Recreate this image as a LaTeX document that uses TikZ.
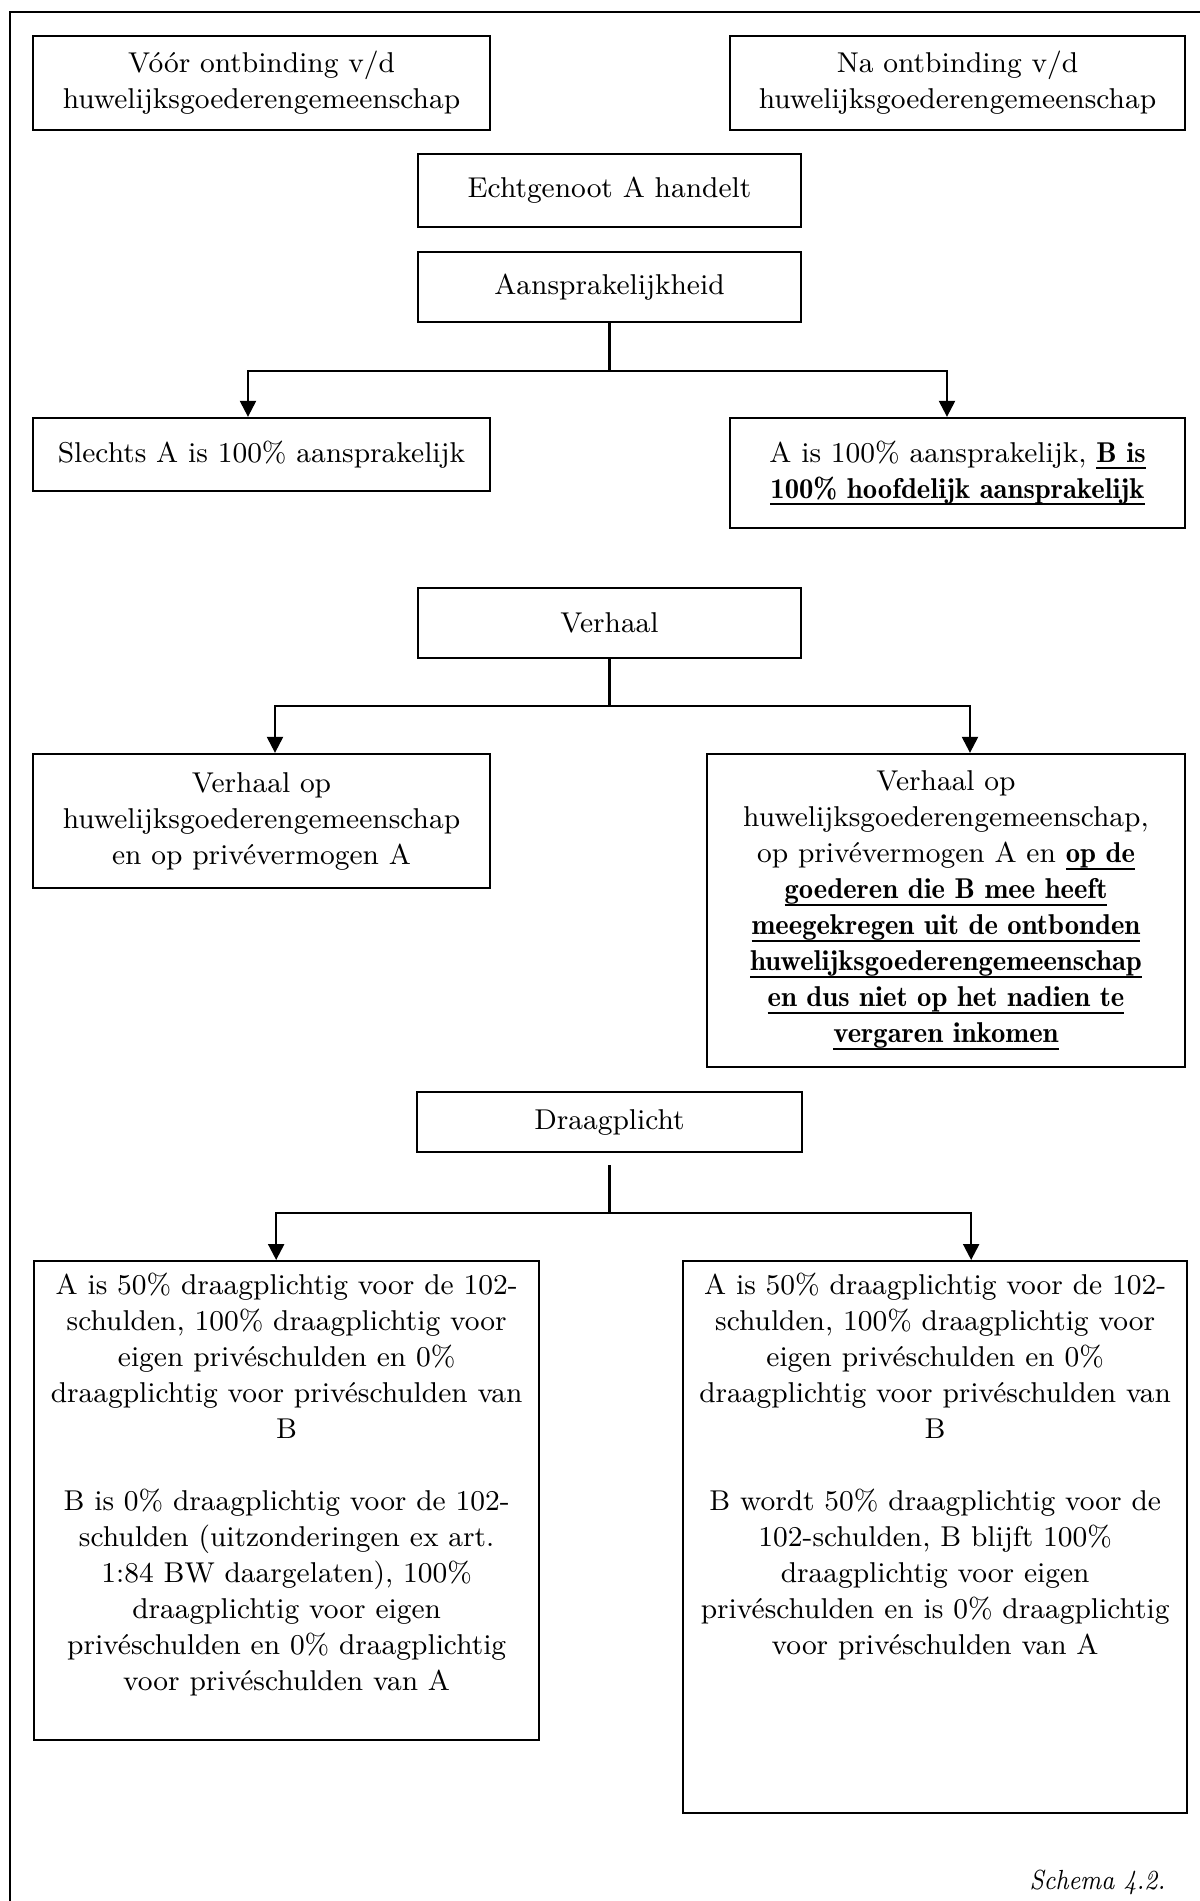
\documentclass[tikz,border=0pt]{standalone}
\usepackage{fontspec}
\usepackage{tikz}
\usetikzlibrary{arrows.meta, positioning}

\newfontfamily\demi{lmromandemi10-regular.otf}
\newsavebox\onderbox
\newcommand{\onder}[1]{\sbox\onderbox{\demi #1}\rlap{\rule[-2.2pt]{\wd\onderbox}{0.6pt}}\usebox\onderbox}

\begin{document}
\begin{tikzpicture}[
    x=0.3pt, y=-0.3pt,
    box/.style={draw, line width=0.7pt, align=center, inner sep=1pt, font=\fontsize{8.6}{10.8}\selectfont},
    arr/.style={-{Triangle[length=4.8pt, width=4.8pt]}, line width=0.7pt},
]
\useasboundingbox (0,0) rectangle (1200,1901);

% frame (only top and left edge visible)
\draw[line width=0.8pt] (1210,12) -- (10,12) -- (10,1910);

% headings
\node[box, minimum width=137.1pt, minimum height=28.2pt] (voor) at (261.5,83) {V\'o\'or ontbinding v/d\\huwelijksgoederengemeenschap};
\node[box, minimum width=136.5pt, minimum height=28.2pt] (na) at (957.5,83) {Na ontbinding v/d\\huwelijksgoederengemeenschap};
\node[box, minimum width=114.9pt, minimum height=21.9pt] (echt) at (609.5,190.5) {Echtgenoot A handelt};

% aansprakelijkheid
\node[box, minimum width=114.9pt, minimum height=21pt] (aans) at (609.5,287) {Aansprakelijkheid};
\node[box, minimum width=137.1pt, minimum height=21.9pt] (slechts) at (261.5,454.5) {Slechts A is 100\% aansprakelijk};
\node[box, minimum width=136.5pt, minimum height=33pt] (hoofd) at (957.5,473) {A is 100\% aansprakelijk, \onder{B is}\\\onder{100\% hoofdelijk aansprakelijk}};

\draw[arr] (aans.south) -- ++(0,48) -| ([xshift=-4.05pt]slechts.north);
\draw[arr] (aans.south) -- ++(0,48) -| ([xshift=-3.15pt]hoofd.north);

% verhaal
\node[box, minimum width=114.9pt, minimum height=21pt] (verhaal) at (609.5,623) {Verhaal};
\node[box, minimum width=137.1pt, minimum height=40.2pt] (verhL) at (261.5,821) {Verhaal op\\huwelijksgoederengemeenschap\\en op priv\'evermogen A};
\node[box, minimum width=143.4pt, minimum height=93.9pt] (verhR) at (946,910.5) {Verhaal op\\huwelijksgoederengemeenschap,\\op priv\'evermogen A en \onder{op de}\\\onder{goederen die B mee heeft}\\\onder{meegekregen uit de ontbonden}\\\onder{huwelijksgoederengemeenschap}\\\onder{en dus niet op het nadien te}\\\onder{vergaren inkomen}};

\draw[arr] (verhaal.south) -- ++(0,47) -| ([xshift=4.05pt]verhL.north);
\draw[arr] (verhaal.south) -- ++(0,47) -| ([xshift=7.2pt]verhR.north);

% draagplicht
\node[box, minimum width=115.5pt, minimum height=18pt] (draag) at (609.5,1122) {Draagplicht};
\node[box, inner sep=0pt, anchor=north west] (draagL) at (33,1260) {\parbox[t][143.7pt][t]{151.5pt}{\centering\rule{0pt}{10.1pt}A is 50\% draagplichtig voor de 102-\\schulden, 100\% draagplichtig voor\\eigen priv\'eschulden en 0\%\\draagplichtig voor priv\'eschulden van\\B\\[10.8pt]B is 0\% draagplichtig voor de 102-\\schulden (uitzonderingen ex art.\\1:84 BW daargelaten), 100\%\\draagplichtig voor eigen\\priv\'eschulden en 0\% draagplichtig\\voor priv\'eschulden van A}};
\node[box, inner sep=0pt, anchor=north west] (draagR) at (682,1260) {\parbox[t][165.6pt][t]{151.2pt}{\centering\rule{0pt}{10.1pt}A is 50\% draagplichtig voor de 102-\\schulden, 100\% draagplichtig voor\\eigen priv\'eschulden en 0\%\\draagplichtig voor priv\'eschulden van\\B\\[10.8pt]B wordt 50\% draagplichtig voor de\\102-schulden, B blijft 100\%\\draagplichtig voor eigen\\priv\'eschulden en is 0\% draagplichtig\\voor priv\'eschulden van A}};

\draw[arr] ([yshift=-3.6pt]draag.south) -- ++(0,48) -| ([xshift=-3.15pt]draagL.north);
\draw[arr] ([yshift=-3.6pt]draag.south) -- ++(0,48) -| ([xshift=10.8pt]draagR.north);

\node[anchor=base east, inner sep=0pt, font=\fontsize{8.3}{10}\selectfont\itshape] (schema) at (1166,1889) {\scalebox{0.86}[1]{Schema 4.2.}};
\end{tikzpicture}
\end{document}
